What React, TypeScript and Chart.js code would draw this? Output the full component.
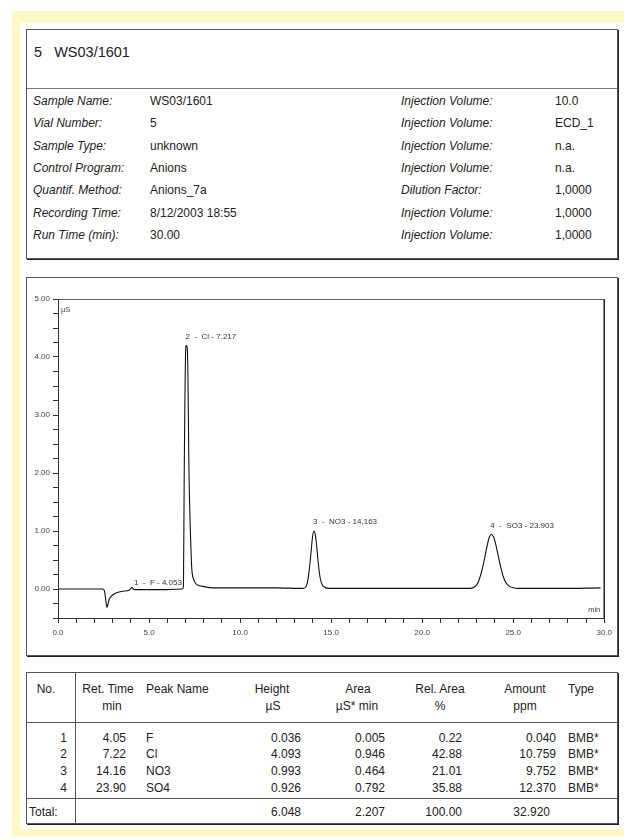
import React, { useEffect, useRef } from "react";
import { Chart, registerables } from "chart.js";

Chart.register(...registerables);

const FONT = '"Liberation Sans", Arial, Helvetica, sans-serif';

// ---------- chromatogram trace (time in min, signal in µS) ----------
const traceTimes = [
  0.0, 2.45, 2.55, 2.62, 2.69, 2.74, 2.8, 2.91, 3.18, 3.55, 3.91, 3.98, 4.06, 4.13, 4.2, 6.0, 6.84,
  6.89, 6.93, 7.02, 7.06, 7.11, 7.2, 7.28, 7.33, 7.37, 7.46, 7.55, 7.72, 7.91, 8.2, 8.46, 10.0, 12.0,
  13.45, 13.6, 13.7, 13.8, 13.9, 13.98, 14.06, 14.14, 14.22, 14.3, 14.4, 14.52, 14.65, 14.85, 18.0,
  22.6, 22.85, 23.05, 23.25, 23.35, 23.45, 23.58, 23.7, 23.8, 23.92, 24.05, 24.18, 24.3, 24.45, 24.6, 24.78,
  25.0, 25.3, 27.5, 29.8,
];
const traceSignal = [
  0.0, 0.0, -0.03, -0.18, -0.32, -0.27, -0.19, -0.13, -0.07, -0.04, -0.02, 0.0, 0.03, 0.0, -0.01, -0.01, 0.0,
  0.05, 1.88, 4.18, 4.2, 4.1, 1.9, 0.9, 0.45, 0.27, 0.16, 0.1, 0.06, 0.05, 0.03, 0.02, 0.02, 0.02,
  0.01, 0.03, 0.12, 0.33, 0.64, 0.9, 1.0, 0.92, 0.7, 0.43, 0.19, 0.07, 0.03, 0.01, 0.01,
  0.01, 0.03, 0.1, 0.28, 0.41, 0.56, 0.76, 0.9, 0.94, 0.9, 0.76, 0.57, 0.4, 0.22, 0.11, 0.05,
  0.02, 0.01, 0.01, 0.02,
];

// ---------- peak annotations ----------
const peakApexTimes = [4.06, 7.06, 14.06, 23.8];
const peakApexHeights = [0.03, 4.2, 1.0, 0.94];
const peakLabels = ["1  -  F - 4.053", "2  -  Cl - 7.217", "3  -  NO3 - 14,163", "4  -  SO3 - 23.903"];

// ---------- axes ----------
const xMajorTicks = [0, 5, 10, 15, 20, 25, 30];
const yMajorTicks = [0, 1, 2, 3, 4, 5];
const xUnit = "min";
const yUnit = "µS";

// ---------- header ----------
const titleText = "5   WS03/1601";
const infoLabelsLeft = ["Sample Name:", "Vial Number:", "Sample Type:", "Control Program:", "Quantif. Method:", "Recording Time:", "Run Time (min):"];
const infoValuesLeft = ["WS03/1601", "5", "unknown", "Anions", "Anions_7a", "8/12/2003 18:55", "30.00"];
const infoLabelsRight = ["Injection Volume:", "Injection Volume:", "Injection Volume:", "Injection Volume:", "Dilution Factor:", "Injection Volume:", "Injection Volume:"];
const infoValuesRight = ["10.0", "ECD_1", "n.a.", "n.a.", "1,0000", "1,0000", "1,0000"];

// ---------- results table ----------
const peakNo = ["1", "2", "3", "4"];
const retTimes = ["4.05", "7.22", "14.16", "23.90"];
const peakNames = ["F", "Cl", "NO3", "SO4"];
const heights = ["0.036", "4.093", "0.993", "0.926"];
const areas = ["0.005", "0.946", "0.464", "0.792"];
const relAreas = ["0.22", "42.88", "21.01", "35.88"];
const amounts = ["0.040", "10.759", "9.752", "12.370"];
const types = ["BMB*", "BMB*", "BMB*", "BMB*"];
const totals = ["6.048", "2.207", "100.00", "32.920"];

type TProps = { x: number; y: number; text: string; align?: "left" | "right" | "center"; size?: number; italic?: boolean; color?: string };

function T({ x, y, text, align = "left", size = 12, italic = false, color = "#222" }: TProps) {
  const w = 300;
  const left = align === "left" ? x : align === "right" ? x - w : x - w / 2;
  return (
    <div
      style={{
        position: "absolute",
        left,
        top: y - 10,
        width: w,
        height: 20,
        lineHeight: "20px",
        textAlign: align,
        fontSize: size,
        fontStyle: italic ? "italic" : "normal",
        color,
        whiteSpace: "pre",
        fontFamily: FONT,
      }}
    >
      {text}
    </div>
  );
}

function Box({ x, y, w, h }: { x: number; y: number; w: number; h: number }) {
  return (
    <div
      style={{
        position: "absolute",
        left: x,
        top: y,
        width: w,
        height: h,
        boxSizing: "border-box",
        border: "1px solid #555",
        boxShadow: "1px 1px 0 #222",
        background: "#fff",
      }}
    />
  );
}

function Line({ x, y, w, h, color = "#555" }: { x: number; y: number; w: number; h: number; color?: string }) {
  return <div style={{ position: "absolute", left: x, top: y, width: w, height: h, background: color }} />;
}

const overlayPlugin = {
  id: "overlay",
  afterDatasetsDraw(chart: any) {
    const { ctx, chartArea, scales } = chart;
    const xs = scales.x;
    const ys = scales.y;
    ctx.save();
    ctx.strokeStyle = "#666";
    ctx.lineWidth = 1;
    ctx.beginPath();
    ctx.moveTo(chartArea.left, chartArea.top + 0.5);
    ctx.lineTo(chartArea.right, chartArea.top + 0.5);
    ctx.stroke();
    ctx.strokeStyle = "#222";
    ctx.lineWidth = 1.5;
    ctx.beginPath();
    ctx.moveTo(chartArea.right, chartArea.top);
    ctx.lineTo(chartArea.right, chartArea.bottom);
    ctx.stroke();

    ctx.font = `8px ${FONT}`;
    ctx.fillStyle = "#333";
    ctx.textBaseline = "middle";
    ctx.textAlign = "left";
    peakLabels.forEach((txt, i) => {
      const px = xs.getPixelForValue(peakApexTimes[i]);
      const py = ys.getPixelForValue(peakApexHeights[i]);
      const dy = peakApexHeights[i] < 0.1 ? 4 : 9;
      const dx = peakApexHeights[i] < 0.1 ? 2 : -1;
      ctx.fillText(txt, px + dx, py - dy);
    });

    ctx.font = `7.5px ${FONT}`;
    ctx.fillStyle = "#444";
    ctx.textAlign = "left";
    ctx.fillText(yUnit, chartArea.left + 3, chartArea.top + 11);
    ctx.textAlign = "right";
    ctx.fillText(xUnit, chartArea.right - 4, chartArea.bottom - 8);
    ctx.restore();
  },
};

function Chromatogram() {
  const ref = useRef<HTMLCanvasElement | null>(null);
  useEffect(() => {
    if (!ref.current) return;
    const points = traceTimes.map((t, i) => ({ x: t, y: traceSignal[i] }));
    const chart = new Chart(ref.current, {
      type: "line",
      data: {
        datasets: [
          {
            data: points,
            borderColor: "#111",
            borderWidth: 1.1,
            pointRadius: 0,
            fill: false,
            cubicInterpolationMode: "monotone",
          },
        ],
      },
      options: {
        animation: false,
        responsive: false,
        devicePixelRatio: 1,
        layout: { padding: { left: 0, top: 21, right: 9, bottom: 0 } },
        plugins: { legend: { display: false }, tooltip: { enabled: false } },
        scales: {
          x: {
            type: "linear",
            min: 0,
            max: 30,
            afterFit: (s: any) => {
              s.height = 37;
            },
            grid: { drawOnChartArea: false, drawTicks: true, tickLength: 5, color: "#333", lineWidth: 1 },
            border: { display: true, color: "#333", width: 1 },
            ticks: {
              stepSize: 1,
              autoSkip: false,
              maxRotation: 0,
              padding: 5,
              color: "#444",
              font: { size: 8, family: FONT },
              callback: (v: any) => (xMajorTicks.includes(Number(v)) ? Number(v).toFixed(1) : ""),
            },
          },
          y: {
            type: "linear",
            min: -0.5,
            max: 5,
            afterFit: (s: any) => {
              s.width = 31;
            },
            grid: { drawOnChartArea: false, drawTicks: true, tickLength: 5, color: "#333", lineWidth: 1 },
            border: { display: true, color: "#333", width: 1 },
            ticks: {
              stepSize: 0.25,
              autoSkip: false,
              padding: 3,
              color: "#444",
              font: { size: 8, family: FONT },
              callback: (v: any) => (yMajorTicks.includes(Number(v)) ? Number(v).toFixed(2) : ""),
            },
          },
        },
      },
      plugins: [overlayPlugin],
    } as any);
    return () => chart.destroy();
  }, []);
  return (
    <canvas
      ref={ref}
      width={590}
      height={377}
      style={{ position: "absolute", left: 27, top: 278, width: 590, height: 377 }}
    />
  );
}

export default function App() {
  const rowY = (i: number) => 101 + 22.35 * i;
  const tRowY = (i: number) => 737.5 + 16.8 * i;
  const YEL = "#fff7c4";
  return (
    <div style={{ position: "absolute", left: 0, top: 0, width: 624, height: 840, background: "#fff", fontFamily: FONT, overflow: "hidden" }}>
      {/* yellow frame */}
      <div style={{ position: "absolute", left: 12, top: 11, width: 612, height: 12, background: YEL }} />
      <div style={{ position: "absolute", left: 12, top: 11, width: 8, height: 825, background: YEL }} />
      <div style={{ position: "absolute", left: 12, top: 829, width: 612, height: 7, background: YEL }} />

      {/* header box */}
      <Box x={26} y={29} w={592} h={230} />
      <Line x={27} y={88} w={590} h={1} color="#777" />
      <T x={34} y={52} text={titleText} size={14.5} />
      {infoLabelsLeft.map((s, i) => (
        <T key={"ll" + i} x={33} y={rowY(i)} text={s} italic />
      ))}
      {infoValuesLeft.map((s, i) => (
        <T key={"lv" + i} x={150} y={rowY(i)} text={s} />
      ))}
      {infoLabelsRight.map((s, i) => (
        <T key={"rl" + i} x={401} y={rowY(i)} text={s} italic />
      ))}
      {infoValuesRight.map((s, i) => (
        <T key={"rv" + i} x={555} y={rowY(i)} text={s} />
      ))}

      {/* chart box */}
      <Box x={26} y={277} w={592} h={379} />
      <Chromatogram />

      {/* table box */}
      <Box x={26} y={672} w={592} h={152} />
      <Line x={75} y={673} w={1} h={150} />
      <Line x={27} y={722} w={590} h={1} />
      <Line x={27} y={798} w={590} h={1} />

      <T x={46} y={689} text="No." align="center" />
      <T x={108} y={689} text="Ret. Time" align="center" />
      <T x={112} y={706} text="min" align="center" />
      <T x={146} y={689} text="Peak Name" />
      <T x={272} y={689} text="Height" align="center" />
      <T x={273} y={706} text="µS" align="center" />
      <T x={358} y={689} text="Area" align="center" />
      <T x={357} y={706} text="µS* min" align="center" />
      <T x={440} y={689} text="Rel. Area" align="center" />
      <T x={440} y={706} text="%" align="center" />
      <T x={525} y={689} text="Amount" align="center" />
      <T x={525} y={706} text="ppm" align="center" />
      <T x={568} y={689} text="Type" />

      {peakNo.map((s, i) => (
        <React.Fragment key={"r" + i}>
          <T x={67} y={tRowY(i)} text={s} align="right" />
          <T x={126} y={tRowY(i)} text={retTimes[i]} align="right" />
          <T x={146} y={tRowY(i)} text={peakNames[i]} />
          <T x={301} y={tRowY(i)} text={heights[i]} align="right" />
          <T x={385} y={tRowY(i)} text={areas[i]} align="right" />
          <T x={462} y={tRowY(i)} text={relAreas[i]} align="right" />
          <T x={556} y={tRowY(i)} text={amounts[i]} align="right" />
          <T x={568} y={tRowY(i)} text={types[i]} />
        </React.Fragment>
      ))}

      <T x={29} y={812} text="Total:" />
      <T x={301} y={812} text={totals[0]} align="right" />
      <T x={385} y={812} text={totals[1]} align="right" />
      <T x={462} y={812} text={totals[2]} align="right" />
      <T x={550} y={812} text={totals[3]} align="right" />
    </div>
  );
}
